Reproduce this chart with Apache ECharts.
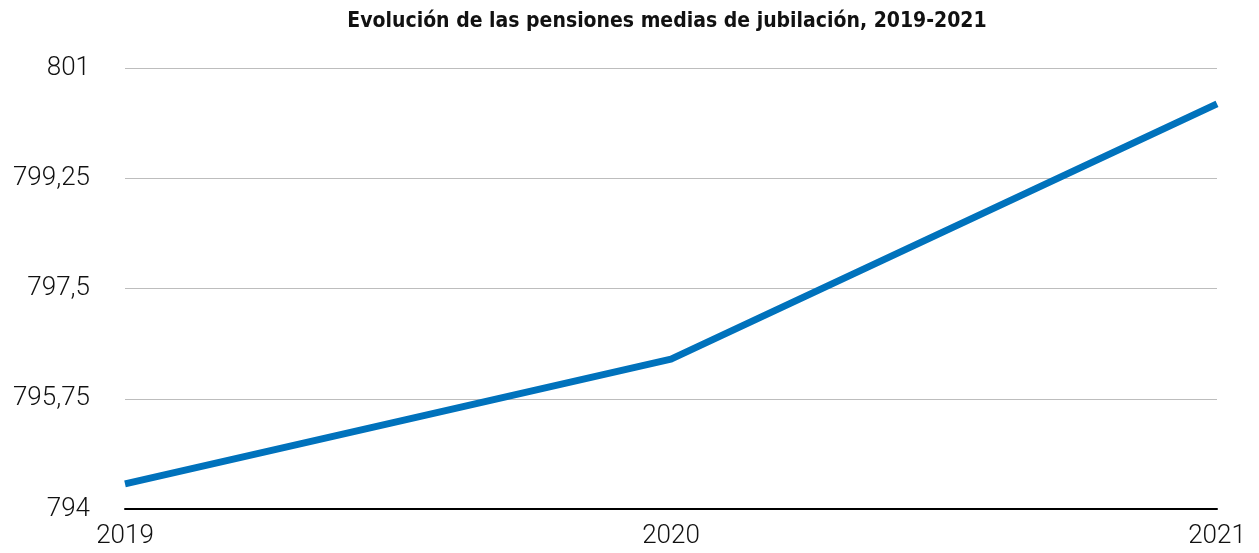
<!DOCTYPE html>
<html><head><meta charset="utf-8">
<script src="https://cdn.jsdelivr.net/npm/echarts@6/dist/echarts.min.js"></script>
<style>html,body{margin:0;padding:0;background:#fff}#c{width:1259px;height:553px}</style>
</head><body><div id="c"></div>
<script>
const categories = ['2019', '2020', '2021'];
const pensionValues = [794.4, 796.38, 800.43];
const yTicks = [794, 795.75, 797.5, 799.25, 801];

const chart = echarts.init(document.getElementById('c'));
chart.setOption({
  animation: false,
  title: {
    text: 'Evolución de las pensiones medias de jubilación, 2019-2021',
    left: 662, top: 6, textAlign: 'center',
    textStyle: { fontFamily: '"Liberation Sans Narrow", "DejaVu Sans Condensed", sans-serif', fontWeight: 'bold', fontSize: 21, color: '#111' }
  },
  grid: { left: 125, right: 42, top: 68, bottom: 44 },
  xAxis: {
    type: 'category', data: categories, boundaryGap: false,
    axisLine: { lineStyle: { color: '#000', width: 2 } },
    axisTick: { show: false },
    axisLabel: { color: '#111', fontSize: 26, fontFamily: 'Roboto, sans-serif', fontWeight: 300, margin: 14,
      alignMinLabel: 'center', alignMaxLabel: 'center' }
  },
  yAxis: {
    type: 'value', min: yTicks[0], max: yTicks[yTicks.length - 1], interval: 1.75,
    axisLine: { show: false }, axisTick: { show: false },
    splitLine: { lineStyle: { color: '#bdbdbd', width: 1 } },
    axisLabel: { color: '#111', fontSize: 26, fontFamily: 'Roboto, sans-serif', fontWeight: 300, margin: 35,
      formatter: v => String(+v.toFixed(2)).replace('.', ',') }
  },
  series: [{
    type: 'line', data: pensionValues, symbol: 'none',
    lineStyle: { color: '#0072BC', width: 7, cap: 'butt', join: 'round' }
  }]
});
</script></body></html>
